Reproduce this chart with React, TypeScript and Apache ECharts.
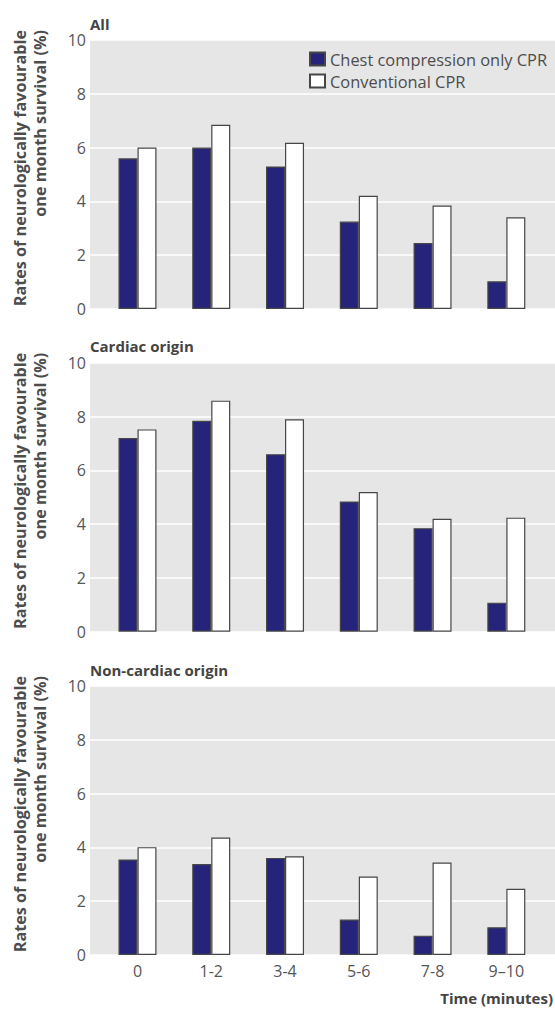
import React, { useEffect, useRef } from "react";
import * as echarts from "echarts";

const categories = ["0", "1-2", "3-4", "5-6", "7-8", "9–10"];
const panelTitles = ["All", "Cardiac origin", "Non-cardiac origin"];
const seriesNames = ["Chest compression only CPR", "Conventional CPR"];
const chestOnly = [
  [5.6, 6.0, 5.3, 3.25, 2.45, 1.03],
  [7.2, 7.84, 6.6, 4.84, 3.85, 1.08],
  [3.55, 3.38, 3.61, 1.32, 0.72, 1.03],
];
const conventional = [
  [6.0, 6.85, 6.18, 4.21, 3.85, 3.41],
  [7.52, 8.59, 7.9, 5.19, 4.2, 4.24],
  [4.01, 4.37, 3.67, 2.92, 3.44, 2.46],
];
const yTicks = [0, 2, 4, 6, 8, 10];
const yTitle = "Rates of neurologically favourable\none month survival (%)";
const xTitle = "Time (minutes)";

const NAVY = "#26247a";
const BORDER = "#464646";
const TEXT = "#4d4d4d";

export default function App() {
  const ref = useRef<HTMLDivElement>(null);
  useEffect(() => {
    if (!ref.current) return;
    const chart = echarts.init(ref.current, null, { renderer: "svg" });
    const tops = [40, 362.7, 686];
    const h = 269;
    const grids: any[] = [];
    const xAxes: any[] = [];
    const yAxes: any[] = [];
    const series: any[] = [];
    const graphics: any[] = [];
    const boldText = { fontFamily: "Open Sans", fontWeight: "bold", fontSize: 15 };
    tops.forEach((top, p) => {
      grids.push({ left: 90, width: 465, top, height: h, show: true, backgroundColor: "#e6e6e6", borderWidth: 0 });
      grids.push({ left: 100.6, width: 442.6, top, height: h, show: false });
      const bg = p * 2;
      const bar = p * 2 + 1;
      xAxes.push({ gridIndex: bg, type: "category", data: categories, show: false });
      xAxes.push({
        gridIndex: bar,
        type: "category",
        data: categories,
        axisLine: { show: false },
        axisTick: { show: false },
        axisLabel: {
          show: p === 2,
          color: "#555",
          fontFamily: "Open Sans",
          fontSize: 16,
          margin: 8,
        },
      });
      yAxes.push({
        gridIndex: bg,
        type: "value",
        min: yTicks[0],
        max: yTicks[yTicks.length - 1],
        interval: 2,
        axisLine: { show: false },
        axisTick: { show: false },
        axisLabel: { color: "#555", fontFamily: "Open Sans", fontSize: 16, margin: 4 },
        splitLine: { show: true, lineStyle: { color: "#ffffff", width: 1.5 } },
      });
      yAxes.push({ gridIndex: bar, type: "value", min: 0, max: 10, show: false, splitLine: { show: false } });
      series.push({
        name: seriesNames[0],
        type: "bar",
        xAxisIndex: bar,
        yAxisIndex: bar,
        data: chestOnly[p],
        barWidth: 19,
        barGap: "0%",
        itemStyle: { color: NAVY, borderColor: BORDER, borderWidth: 1.2 },
      });
      series.push({
        name: seriesNames[1],
        type: "bar",
        xAxisIndex: bar,
        yAxisIndex: bar,
        data: conventional[p],
        barWidth: 19,
        barGap: "0%",
        itemStyle: { color: "#ffffff", borderColor: BORDER, borderWidth: 1.2 },
      });
      graphics.push({
        type: "text",
        left: 90,
        top: top - 24,
        style: { text: panelTitles[p], ...boldText, fill: "#444" },
      });
      graphics.push({
        type: "text",
        x: 30,
        y: top - 10,
        rotation: Math.PI / 2,
        style: {
          text: yTitle,
          ...boldText,
          fontSize: 16.2,
          fill: TEXT,
          align: "right",
          verticalAlign: "middle",
          lineHeight: 20,
        },
      });
    });
    graphics.push({
      type: "text",
      right: 2,
      top: 990,
      style: { text: xTitle, ...boldText, fill: "#444" },
    });
    chart.setOption({
      animation: false,
      grid: grids,
      xAxis: xAxes,
      yAxis: yAxes,
      series,
      legend: {
        orient: "vertical",
        left: 304,
        top: 46,
        itemWidth: 15,
        itemHeight: 13,
        itemGap: 6,
        data: seriesNames,
        textStyle: { color: TEXT, fontFamily: "Open Sans", fontSize: 16.4, padding: [0, 0, 0, 0] },
        icon: "rect",
      },
      graphic: graphics,
    });
    return () => chart.dispose();
  }, []);
  return (
    <div
      ref={ref}
      style={{ position: "absolute", left: 0, top: 0, width: 555, height: 1009, background: "#fff" }}
    />
  );
}
